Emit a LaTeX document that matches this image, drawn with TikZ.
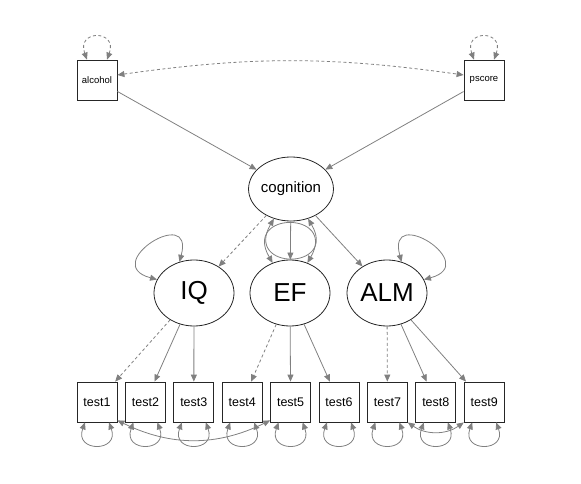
\documentclass[tikz,border=0pt]{standalone}
\usepackage{fontspec}
\setmainfont{Liberation Sans}
\usepackage{xcolor}
\usetikzlibrary{shapes.geometric, arrows.meta}

\definecolor{edgegray}{HTML}{808080}
\definecolor{boxgray}{HTML}{262626}

\begin{document}
\begin{tikzpicture}[x = 1pt, y = 1pt,
		>={Stealth[length = 7pt, width = 6pt, inset = 0pt]},
		obs/.style = {draw = boxgray, line width = 0.8pt, rectangle, minimum size = 40pt, inner sep = 0pt},
		lat/.style = {draw = boxgray, line width = 0.8pt, ellipse, minimum width = 80pt, minimum height = 66pt, inner sep = 0pt, font = \fontsize{26}{28}\selectfont},
		load/.style = {draw = edgegray, line width = 0.8pt, ->},
		fixed/.style = {dash pattern = on 3pt off 2.5pt},
		varloop/.style = {draw = edgegray, line width = 0.8pt, <->},
		cov/.style = {draw = edgegray, line width = 0.8pt, <->}]
	\def\xTEST{97};
	\def\dTEST{48.4};
	\def\yTEST{81};

	\useasboundingbox (0,0) rectangle (581,483);

	\begin{scope}[font = \fontsize{9.5}{11}\selectfont]
		\node[obs] (alcohol) at (97,403) {alcohol};
		\node[obs] (pscore) at (484,403) {pscore};
	\end{scope}

	\node[lat, minimum height = 64pt, font = \fontsize{15}{17}\selectfont] (cognition) at (291,294) {cognition};
	\node[lat] (IQ) at (194,190) {IQ};
	\node[lat] (EF) at (290,190) {EF};
	\node[lat] (ALM) at (387,190) {ALM};

	\foreach \i in {1,...,9}
	{
		\node[obs, font = \fontsize{12.5}{14}\selectfont] (test\i) at ({\xTEST + \dTEST*(\i - 1)}, \yTEST) {test\i};
	}

	\begin{scope}
		\draw[load] (alcohol) -- (cognition);
		\draw[load] (pscore) -- (cognition);
		\draw[load, fixed] (cognition) -- (IQ);
		\draw[load] (cognition) -- (EF);
		\draw[load] (cognition) -- (ALM);

		\draw[load, fixed] (IQ) -- (test1);
		\draw[load] (IQ) -- (test2);
		\draw[load] (IQ) -- (test3);
		\draw[load, fixed] (EF) -- (test4);
		\draw[load] (EF) -- (test5);
		\draw[load] (EF) -- (test6);
		\draw[load, fixed] (ALM) -- (test7);
		\draw[load] (ALM) -- (test8);
		\draw[load] (ALM) -- (test9);
	\end{scope}

	\begin{scope}
		\draw[varloop, fixed] ([xshift = -10pt]alcohol.north) .. controls +(110:32) and +(70:32) .. ([xshift = 10pt]alcohol.north);
		\draw[varloop, fixed] ([xshift = -10pt]pscore.north) .. controls +(110:32) and +(70:32) .. ([xshift = 10pt]pscore.north);
		\draw[varloop] (cognition.-120) .. controls +(-120:60) and +(-60:60) .. (cognition.-60);
		\draw[varloop] (IQ.160) .. controls +(165:60) and +(75:60) .. (IQ.115);
		\draw[varloop] (EF.120) .. controls +(120:60) and +(60:60) .. (EF.60);
		\draw[varloop] (ALM.65) .. controls +(105:60) and +(15:60) .. (ALM.20);

		\foreach \i in {1,...,9}
		{
			\draw[varloop] ([xshift = -12pt]test\i.south) .. controls +(-110:32) and +(-70:32) .. ([xshift = 12pt]test\i.south);
		}
	\end{scope}

	\begin{scope}
		\draw[cov, fixed] ([yshift = 5pt]alcohol.east) to[bend left = 8] ([yshift = 5pt]pscore.west);
		\draw[cov] ([yshift = 2pt]test1.south east) to[bend right = 26] ([yshift = 2pt]test5.south west);
		\draw[cov] (test7.south east) to[bend right = 35] (test9.south west);
	\end{scope}
\end{tikzpicture}
\end{document}
